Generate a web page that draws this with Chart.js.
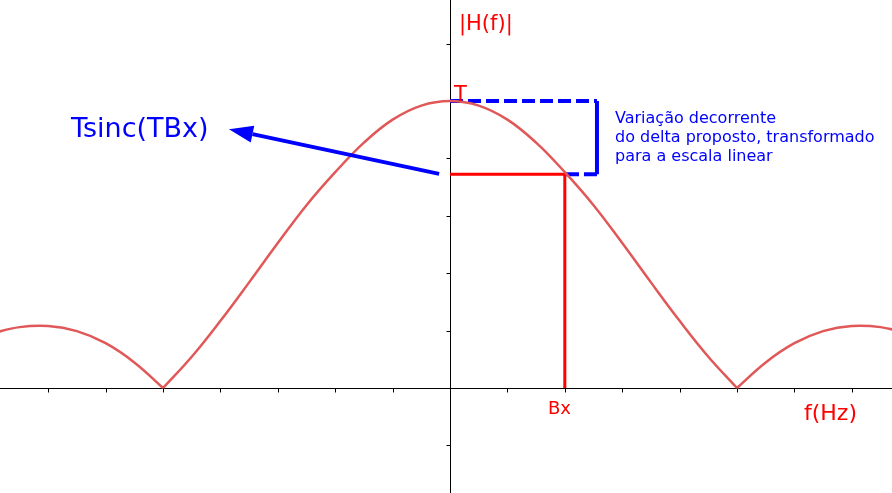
<!DOCTYPE html>
<html><head><meta charset="utf-8">
<script src="https://cdn.jsdelivr.net/npm/chart.js@4.4.0/dist/chart.umd.min.js"></script>
<style>html,body{margin:0;padding:0;background:#fff}#wrap{width:892px;height:493px}</style>
</head><body><div id="wrap"><canvas id="c"></canvas></div>
<script>
// Values
const freq      = [-1.6,-1.5,-1.4,-1.3,-1.2,-1.1,-1.0,-0.9,-0.8,-0.7,-0.6,-0.5,-0.4,-0.3,-0.2,-0.1,0,0.1,0.2,0.3,0.4,0.5,0.6,0.7,0.8,0.9,1.0,1.1,1.2,1.3,1.4,1.5,1.6];
const magnitude = [0.189,0.212,0.216,0.198,0.156,0.089,0,0.109,0.234,0.368,0.505,0.637,0.752,0.855,0.935,0.984,1,0.984,0.935,0.855,0.752,0.637,0.505,0.368,0.234,0.109,0,0.089,0.156,0.198,0.216,0.212,0.189];
const xTicks = [-1.4,-1.2,-1.0,-0.8,-0.6,-0.4,-0.2,0.2,0.4,0.6,0.8,1.0,1.2,1.4];
const yTicks = [-0.2,0.2,0.4,0.6,0.8,1.0,1.2];
const bx = 0.4;          // Bx
const hAtBx = 0.745;     // |H(Bx)|
const peak = 1.0;        // T
const bracketX = 0.512;  // blue bracket right side
const arrowFrom = {x:-0.038, y:0.746};
const arrowTo   = {x:-0.770, y:0.902};

const pts = freq.map((x,i)=>({x, y:magnitude[i]}));
const left  = pts.filter(p=>p.x<=-1);
const main  = pts.filter(p=>p.x>=-1 && p.x<=1);
const right = pts.filter(p=>p.x>=1);

const curveColor = 'rgb(224,88,88)';
const lobe = d => ({data:d, borderColor:curveColor, borderWidth:2.5, pointRadius:0, tension:0.4, fill:false});

const annot = {
  id:'annot',
  beforeDatasetsDraw(chart){
    const {ctx, chartArea:a, scales:{x,y}} = chart;
    const x0 = Math.round(x.getPixelForValue(0))+0.5, y0 = Math.round(y.getPixelForValue(0))+0.5;
    ctx.save();
    ctx.strokeStyle = '#000'; ctx.lineWidth = 1;
    ctx.beginPath();
    ctx.moveTo(a.left, y0); ctx.lineTo(a.right, y0);
    ctx.moveTo(x0, a.top); ctx.lineTo(x0, a.bottom);
    xTicks.forEach(t=>{const px=Math.round(x.getPixelForValue(t))+0.5; ctx.moveTo(px,y0); ctx.lineTo(px,y0+4);});
    yTicks.forEach(t=>{const py=Math.round(y.getPixelForValue(t))+0.5; ctx.moveTo(x0-4,py); ctx.lineTo(x0,py);});
    ctx.stroke();
    ctx.restore();
  },
  afterDatasetsDraw(chart){
    const {ctx, scales:{x,y}} = chart;
    ctx.save();
    // arrow
    const sx=x.getPixelForValue(arrowFrom.x), sy=y.getPixelForValue(arrowFrom.y);
    const ex=x.getPixelForValue(arrowTo.x), ey=y.getPixelForValue(arrowTo.y);
    const ang=Math.atan2(ey-sy, ex-sx);
    const hl=24, hw=8.5;
    const bxp=ex-hl*Math.cos(ang), byp=ey-hl*Math.sin(ang);
    ctx.strokeStyle='#0000ff'; ctx.fillStyle='#0000ff'; ctx.lineWidth=4;
    ctx.beginPath(); ctx.moveTo(sx,sy); ctx.lineTo(bxp,byp); ctx.stroke();
    ctx.beginPath();
    ctx.moveTo(ex,ey);
    ctx.lineTo(bxp+hw*Math.sin(ang), byp-hw*Math.cos(ang));
    ctx.lineTo(bxp-hw*Math.sin(ang), byp+hw*Math.cos(ang));
    ctx.closePath(); ctx.fill();
    // texts
    ctx.textBaseline='alphabetic'; ctx.textAlign='left';
    ctx.fillStyle='#ff0000';
    ctx.font='21px "DejaVu Sans"'; ctx.fillText('|H(f)|', 459, 30);
    ctx.font='21px "DejaVu Sans"'; ctx.fillText('T', 454, 101);
    ctx.font='18px "DejaVu Sans"'; ctx.fillText('Bx', 548, 414);
    ctx.font='22px "DejaVu Sans"'; ctx.fillText('f(Hz)', 804, 420);
    ctx.fillStyle='#0000ff';
    ctx.font='27px "DejaVu Sans"'; ctx.fillText('Tsinc(TBx)', 71, 137);
    ctx.font='16px "DejaVu Sans"';
    ctx.fillText('Variação decorrente', 615, 123);
    ctx.fillText('do delta proposto, transformado', 615, 142);
    ctx.fillText('para a escala linear', 615, 161);
    ctx.restore();
  }
};

new Chart(document.getElementById('c'), {
  type:'line',
  data:{datasets:[
    lobe(left), lobe(main), lobe(right),
    {data:[{x:0,y:hAtBx},{x:bx,y:hAtBx},{x:bx,y:0}], borderColor:'#ff0000', borderWidth:3, pointRadius:0, tension:0},
    {data:[{x:0,y:peak},{x:bracketX,y:peak},{x:bracketX,y:hAtBx},{x:bx,y:hAtBx}], borderColor:'#0000ff', borderWidth:4, pointRadius:0, tension:0,
     segment:{borderDash: c => c.p0DataIndex===1 ? [] : [13,5]}}
  ]},
  options:{
    responsive:true, maintainAspectRatio:false, animation:false,
    layout:{padding:0},
    plugins:{legend:{display:false}, tooltip:{enabled:false}},
    scales:{
      x:{type:'linear', min:-1.568, max:1.540, display:false},
      y:{type:'linear', min:-0.366, max:1.352, display:false}
    }
  },
  plugins:[annot]
});
</script></body></html>
